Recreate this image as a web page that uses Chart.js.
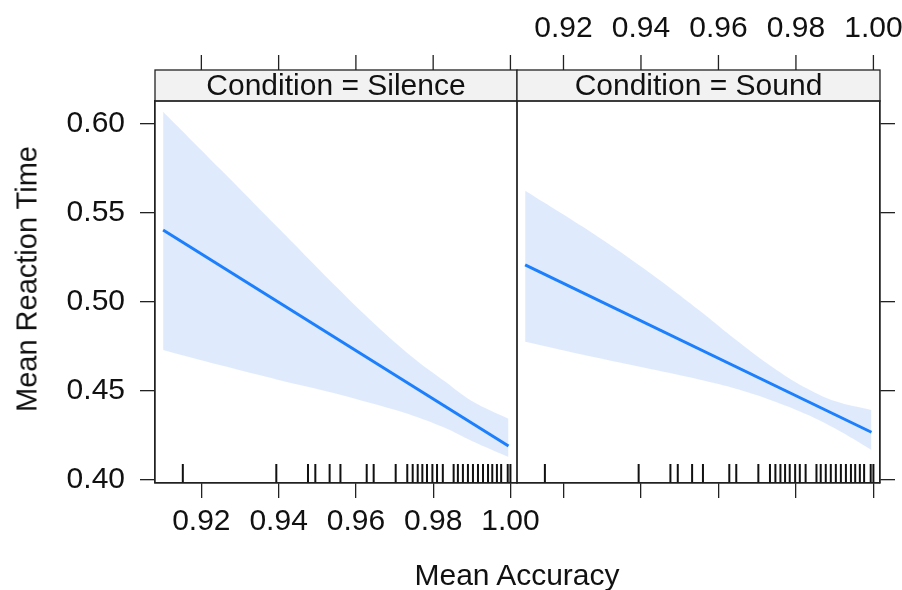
<!DOCTYPE html>
<html lang="en">
<head>
<meta charset="UTF-8">
<title>Mean Reaction Time vs Mean Accuracy</title>
<script src="https://cdn.jsdelivr.net/npm/chart.js"></script>
<style>
  body { margin: 0; background: #fff; }
  .wrap { position: relative; width: 902px; height: 590px; overflow: hidden;
          font-family: "Liberation Sans", Arial, sans-serif; color: #111; }
  canvas { position: absolute; top: 0; }
  #silence { left: 0; }
  #sound { left: 500px; }
  .axis-title { position: absolute; white-space: nowrap; transform: translate(-50%, -50%); }
  #xtitle { left: 517px; top: 575px; font-size: 30px; }
  #ytitle { left: 27px; top: 279px; font-size: 29px; transform: translate(-50%, -50%) rotate(-90deg); }
</style>
</head>
<body>
<div class="wrap">
  <canvas id="silence" width="560" height="590"></canvas>
  <canvas id="sound" width="402" height="590"></canvas>
  <div class="axis-title" id="xtitle">Mean Accuracy</div>
  <div class="axis-title" id="ytitle">Mean Reaction Time</div>
</div>

<script>
// tick labels
const xTicks = [0.92, 0.94, 0.96, 0.98, 1.00];
const yTicks = [0.40, 0.45, 0.50, 0.55, 0.60];

// points where the confidence band was read
const bandX = [0.9101, 0.925, 0.94, 0.955, 0.965, 0.975, 0.983, 0.99, 0.9995];

// Condition = Silence
const silenceFitX = [0.9101, 0.9995];
const silenceFit = [0.540, 0.4187];
const silenceUpper = [0.6065, 0.574, 0.541, 0.508, 0.487, 0.468, 0.455, 0.444, 0.434];
const silenceLower = [0.4726, 0.464, 0.4558, 0.4481, 0.4421, 0.4356, 0.4289, 0.4215, 0.4125];

// Condition = Sound
const soundFitX = [0.9101, 0.9995];
const soundFit = [0.5204, 0.4264];
const soundUpper = [0.5621, 0.5418, 0.5195, 0.4950, 0.4775, 0.4614, 0.4508, 0.4439, 0.4389];
const soundLower = [0.4773, 0.4700, 0.4631, 0.4561, 0.4506, 0.4433, 0.4362, 0.4286, 0.4165];

// observed mean accuracies (rug)
const rugX = [0.9152, 0.9394, 0.9476, 0.9495, 0.9532, 0.9560, 0.9628, 0.9646, 0.9703,
              0.9733, 0.9747, 0.9760, 0.9772, 0.9784, 0.9798, 0.9810, 0.9825,
              0.9853, 0.9864, 0.9877, 0.9890, 0.9903, 0.9916, 0.9929, 0.9942,
              0.9953, 0.9965, 0.9976, 0.9993, 1.0];

const FONT = '"Liberation Sans", Arial, sans-serif';
const INK = '#111';
const STRIP_TOP = 70;
const TICK_LEN = 15;

const pts = (xs, ys) => xs.map((x, i) => ({ x: x, y: ys[i] }));

// strip, panel box, top ticks and the rug
const latticePlugin = {
    id: 'lattice',
    beforeDatasetsDraw(chart) {
        const { ctx, chartArea: a, scales: { x } } = chart;
        ctx.save();
        ctx.strokeStyle = '#111';
        ctx.lineWidth = 2;
        ctx.beginPath();
        rugX.forEach(v => {
            const px = x.getPixelForValue(v);
            ctx.moveTo(px, a.bottom);
            ctx.lineTo(px, a.bottom - 19);
        });
        ctx.stroke();
        ctx.restore();
    },
    afterDraw(chart, args, opts) {
        const { ctx, chartArea: a, scales: { x } } = chart;
        ctx.save();
        // strip
        ctx.fillStyle = '#f2f2f2';
        ctx.fillRect(a.left, STRIP_TOP, a.width, a.top - STRIP_TOP);
        ctx.strokeStyle = '#222';
        ctx.lineWidth = 1.3;
        ctx.strokeRect(a.left, STRIP_TOP, a.width, a.top - STRIP_TOP);
        ctx.fillStyle = INK;
        ctx.font = '30px ' + FONT;
        ctx.textAlign = 'center';
        ctx.textBaseline = 'middle';
        ctx.fillText(opts.label, (a.left + a.right) / 2, (STRIP_TOP + a.top) / 2 + 1);
        // panel border
        ctx.strokeRect(a.left, a.top, a.width, a.height);
        // top axis ticks
        ctx.beginPath();
        xTicks.forEach(v => {
            const px = x.getPixelForValue(v);
            ctx.moveTo(px, STRIP_TOP);
            ctx.lineTo(px, STRIP_TOP - TICK_LEN);
        });
        ctx.stroke();
        if (opts.topLabels) {
            xTicks.forEach(v => ctx.fillText(v.toFixed(2), x.getPixelForValue(v), 29));
        }
        ctx.restore();
    }
};

function makePanel(id, label, fitX, fit, upper, lower, first) {
    const tickFont = { family: FONT, size: 30 };
    const gridOpts = { drawOnChartArea: false, drawTicks: true, tickLength: TICK_LEN, color: '#222', lineWidth: 1.3 };
    return new Chart(document.getElementById(id), {
        type: 'line',
        data: {
            datasets: [
                { data: pts(bandX, lower), borderWidth: 0, pointRadius: 0, fill: false, tension: 0.4 },
                { data: pts(bandX, upper), borderWidth: 0, pointRadius: 0, fill: '-1', tension: 0.4,
                  backgroundColor: 'rgba(42, 122, 242, 0.15)' },
                { data: pts(fitX, fit), borderColor: '#1a80ff', borderWidth: 3, pointRadius: 0, fill: false }
            ]
        },
        options: {
            responsive: false,
            devicePixelRatio: 1,
            animation: false,
            layout: { padding: first ? { left: 0, right: 43, top: 101, bottom: 0 }
                                     : { left: 17, right: 0, top: 101, bottom: 0 } },
            plugins: {
                legend: { display: false },
                tooltip: { enabled: false },
                lattice: { label: label, topLabels: !first }
            },
            scales: {
                x: {
                    type: 'linear',
                    min: 0.908, max: 1.0017,
                    afterBuildTicks: s => { s.ticks = xTicks.map(v => ({ value: v })); },
                    afterFit: s => { s.height = 107; },
                    grid: gridOpts,
                    border: { display: true, color: '#222', width: 1.3 },
                    ticks: { display: first, font: tickFont, color: INK, padding: 6, maxRotation: 0, autoSkip: false,
                             callback: v => v.toFixed(2) }
                },
                y: {
                    position: first ? 'left' : 'right',
                    min: 0.3979, max: 0.6125,
                    afterBuildTicks: s => { s.ticks = yTicks.map(v => ({ value: v })); },
                    afterFit: s => { s.width = first ? 155 : 22; },
                    grid: gridOpts,
                    border: { display: true, color: '#222', width: 1.3 },
                    ticks: { display: first, font: tickFont, color: INK, padding: 15, autoSkip: false,
                             callback: v => v.toFixed(2) }
                }
            }
        },
        plugins: [latticePlugin]
    });
}

makePanel('silence', 'Condition = Silence', silenceFitX, silenceFit, silenceUpper, silenceLower, true);
makePanel('sound', 'Condition = Sound', soundFitX, soundFit, soundUpper, soundLower, false);
</script>
</body>
</html>
